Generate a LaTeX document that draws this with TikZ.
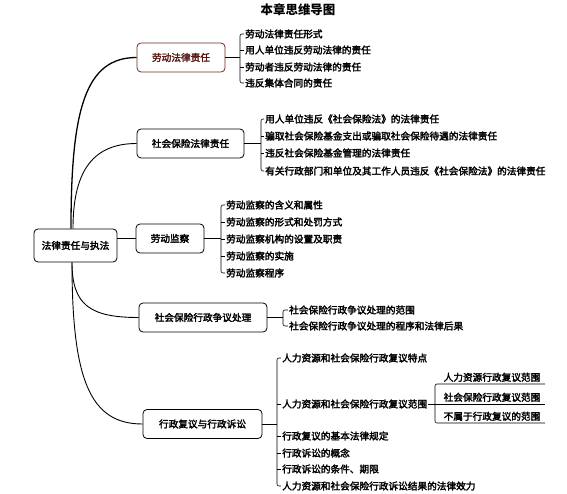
\documentclass[tikz,border=0pt]{standalone}
\usepackage{fontspec}
\setmainfont{Noto Sans CJK SC}
\newfontfamily\bodyfont{Noto Sans CJK SC}[FakeBold=2.5]
\definecolor{boxred}{HTML}{6B2A20}
\definecolor{txtred}{HTML}{5A1A12}
\begin{document}
\begin{tikzpicture}[x=1bp,y=-1bp,
  font=\bodyfont\fontsize{9.7}{11}\selectfont,
  box/.style={draw, rounded corners=4bp, line width=0.8bp, minimum height=29bp, inner sep=0pt},
  leaf/.style={anchor=west, inner sep=1bp},
  subleaf/.style={anchor=south, inner sep=1.5bp},
  con/.style={line width=0.9bp},
  br/.style={line width=0.6bp, rounded corners=2bp}]
\useasboundingbox (0,0) rectangle (567,494);

\node[font=\bfseries\fontsize{12.5}{14}\selectfont] (title) at (298,10) {本章思维导图};

\node[box, minimum width=83bp, minimum height=33bp] (root) at (75.5,245.5) {法律责任与执法};
\node[box, draw=boxred, text=txtred, minimum width=88bp] (b1) at (181,57.5) {劳动法律责任};
\node[box, minimum width=107bp] (b2) at (190.5,143.5) {社会保险法律责任};
\node[box, minimum width=68bp] (b3) at (170,238.5) {劳动监察};
\node[box, minimum width=128bp] (b4) at (203,317.5) {社会保险行政争议处理};
\node[box, minimum width=119bp] (b5) at (202.5,424) {行政复议与行政诉讼};

% root connectors
\draw[con, line width=1.3bp] ([xshift=-4.5bp]root.north) .. controls (71,110) and (85,57.5) .. (b1.west);
\draw[con] ([xshift=-2.5bp]root.north) .. controls (73,175) and (90,143.5) .. (b2.west);
\draw[con] (b3.west -| root.east) -- (b3.west);
\draw[con] ([xshift=-3.5bp]root.south) .. controls (72,305) and (90,317.5) .. (b4.west);
\draw[con] ([xshift=-3.5bp]root.south) .. controls (72,380) and (90,424) .. (b5.west);

% branch 1
\node[leaf] (l11) at (244,34) {劳动法律责任形式};
\node[leaf] (l12) at (244,50) {用人单位违反劳动法律的责任};
\node[leaf] (l13) at (244,67) {劳动者违反劳动法律的责任};
\node[leaf] (l14) at (244,83) {违反集体合同的责任};
\coordinate (k1) at (240,57.5);
\draw[con] (b1.east) -- (k1);
\draw[br] (l11.west) -| (k1) |- (l14.west);
\draw[br] (l12.west -| k1) -- (l12.west);
\draw[br] (l13.west -| k1) -- (l13.west);

% branch 2
\node[leaf] (l21) at (264,119) {用人单位违反《社会保险法》的法律责任};
\node[leaf] (l22) at (264,136) {骗取社会保险基金支出或骗取社会保险待遇的法律责任};
\node[leaf] (l23) at (264,153) {违反社会保险基金管理的法律责任};
\node[leaf] (l24) at (264,171) {有关行政部门和单位及其工作人员违反《社会保险法》的法律责任};
\coordinate (k2) at (261,143.5);
\draw[con] (b2.east) -- (k2);
\draw[br] (l21.west) -| (k2) |- (l24.west);
\draw[br] (l22.west -| k2) -- (l22.west);
\draw[br] (l23.west -| k2) -- (l23.west);

% branch 3
\node[leaf] (l31) at (225,205) {劳动监察的含义和属性};
\node[leaf] (l32) at (225,222) {劳动监察的形式和处罚方式};
\node[leaf] (l33) at (225,239) {劳动监察机构的设置及职责};
\node[leaf] (l34) at (225,256) {劳动监察的实施};
\node[leaf] (l35) at (225,273) {劳动监察程序};
\coordinate (k3) at (221,238.5);
\draw[con] (b3.east) -- (k3);
\draw[br] (l31.west) -| (k3) |- (l35.west);
\draw[br] (l32.west -| k3) -- (l32.west);
\draw[br] (l33.west -| k3) -- (l33.west);
\draw[br] (l34.west -| k3) -- (l34.west);

% branch 4
\node[leaf] (l41) at (288,310) {社会保险行政争议处理的范围};
\node[leaf] (l42) at (288,326) {社会保险行政争议处理的程序和法律后果};
\coordinate (k4) at (283,317.5);
\draw[con] (b4.east) -- (k4);
\draw[br] (l41.west) -| (k4) |- (l42.west);

% branch 5
\node[leaf] (l51) at (281,358) {人力资源和社会保险行政复议特点};
\node[leaf] (l52) at (281,404) {人力资源和社会保险行政复议范围};
\node[leaf] (l53) at (281,436) {行政复议的基本法律规定};
\node[leaf] (l54) at (281,453) {行政诉讼的概念};
\node[leaf] (l55) at (281,469) {行政诉讼的条件、期限};
\node[leaf] (l56) at (281,486) {人力资源和社会保险行政诉讼结果的法律效力};
\coordinate (k5) at (277,424);
\draw[con] (b5.east) -- (k5);
\draw[br] (l51.west) -| (k5) |- (l56.west);
\draw[br] (l52.west -| k5) -- (l52.west);
\draw[br] (l53.west -| k5) -- (l53.west);
\draw[br] (l54.west -| k5) -- (l54.west);
\draw[br] (l55.west -| k5) -- (l55.west);

% sub-branch of l52
\coordinate (k6) at (435,404);
\coordinate (s1b) at (545,384);
\coordinate (s2b) at (545,404);
\coordinate (s3b) at (545,423);
\draw[br] (l52.east) -- (k6);
\draw[br] (s1b) -| (k6) |- (s3b);
\draw[br] (k6) -- (s2b);
\node[subleaf] (s1) at (492,383.5) {人力资源行政复议范围};
\node[subleaf] (s2) at (492,403.5) {社会保险行政复议范围};
\node[subleaf] (s3) at (492,422.5) {不属于行政复议的范围};
\end{tikzpicture}
\end{document}
